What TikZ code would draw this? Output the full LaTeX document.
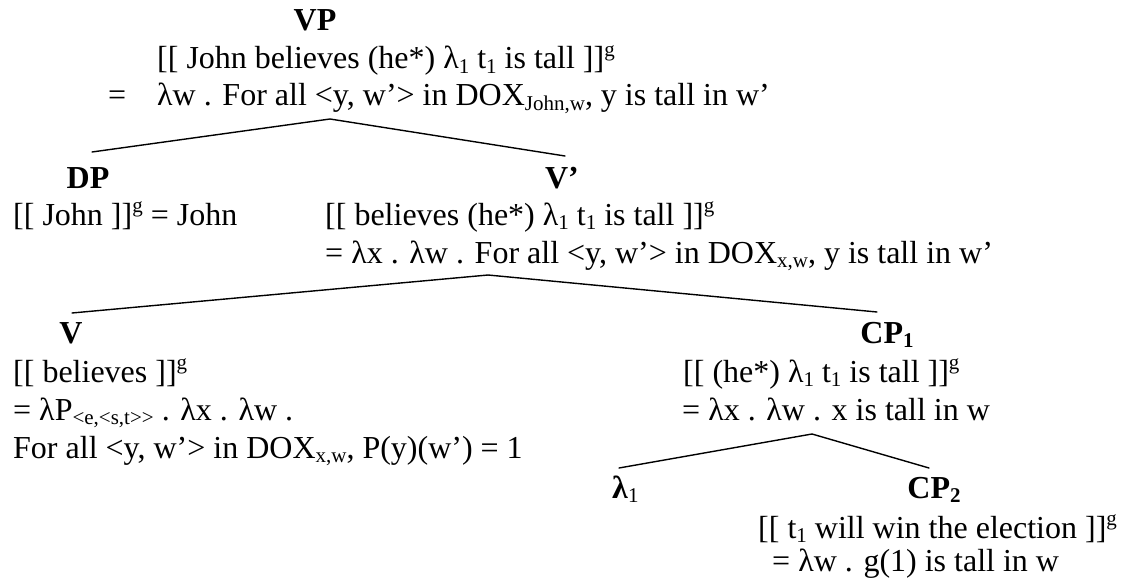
\documentclass[tikz,border=0pt]{standalone}
\usepackage{fontspec}
\setmainfont{Liberation Serif}
\newcommand\mysub[1]{\raisebox{-0.14em}{\fontsize{21}{21}\selectfont #1}}
\newcommand\mysup[1]{\raisebox{0.40em}{\fontsize{21}{21}\selectfont #1}}
\begin{document}
\begin{tikzpicture}[x=1pt,y=-1pt,
  txt/.style={font=\fontsize{32}{36}\selectfont, inner sep=0pt, anchor=base west},
  lbl/.style={font=\fontsize{32}{36}\selectfont\bfseries, inner sep=0pt, anchor=base},
  branch/.style={line width=1.4pt, line cap=round}]
\useasboundingbox (0,0) rectangle (1123,580);
\fill[white] (0,0) rectangle (1123,580);

% VP
\node[lbl] (VP) at (315,31) {VP};
\node[txt] (vpA) at (157,69) {[[ John believes (he*) λ\mysub{1} t\mysub{1} is tall ]]\mysup{g}};
\node[txt] (vpEq) at (108,106) {=};
\node[txt] (vpB) at (157,106) {λw . For all <y, w’> in DOX\mysub{John,w}, y is tall in w’};
\coordinate (vpApex) at (330,119);
\coordinate (dpTop) at (92,152);
\coordinate (vbarTop) at (565,156);

% DP
\node[lbl] (DP) at (88,188) {DP};
\node[txt] (dpA) at (13,225) {[[ John ]]\mysup{g} = John};

% V'
\node[lbl] (Vbar) at (562,188) {V’};
\node[txt] (vbA) at (325,225) {[[ believes (he*) λ\mysub{1} t\mysub{1} is tall ]]\mysup{g}};
\node[txt] (vbB) at (325,263) {= λx . λw . For all <y, w’> in DOX\mysub{x,w}, y is tall in w’};
\coordinate (vbApex) at (488,275);
\coordinate (vTop) at (72,313);
\coordinate (cpOneTop) at (877,312);

% V
\node[lbl] (V) at (71,343) {V};
\node[txt] (vA) at (13,382) {[[ believes ]]\mysup{g}};
\node[txt] (vB) at (13,420) {= λP\mysub{<e,<s,t>{}>} . λx . λw .};
\node[txt] (vC) at (13,458) {For all <y, w’> in DOX\mysub{x,w}, P(y)(w’) = 1};

% CP1
\node[lbl] (CPone) at (887,343) {CP\mysub{1}};
\node[txt] (cpA) at (683,382) {[[ (he*) λ\mysub{1} t\mysub{1} is tall ]]\mysup{g}};
\node[txt] (cpB) at (682,420) {= λx . λw . x is tall in w};
\coordinate (cpApex) at (812,434);
\coordinate (lamTop) at (619,468);
\coordinate (cpTwoTop) at (929,468);

% lambda_1 and CP2
\node[txt] (lam) at (612,498) {\textbf{λ}\mysub{1}};
\node[lbl] (CPtwo) at (934,498) {CP\mysub{2}};
\node[txt] (cqA) at (758,538) {[[ t\mysub{1} will win the election ]]\mysup{g}};
\node[txt] (cqB) at (772,571) {= λw . g(1) is tall in w};

% branches
\draw[branch] (dpTop) -- (vpApex) -- (vbarTop);
\draw[branch] (vTop) -- (vbApex) -- (cpOneTop);
\draw[branch] (lamTop) -- (cpApex) -- (cpTwoTop);
\end{tikzpicture}
\end{document}
